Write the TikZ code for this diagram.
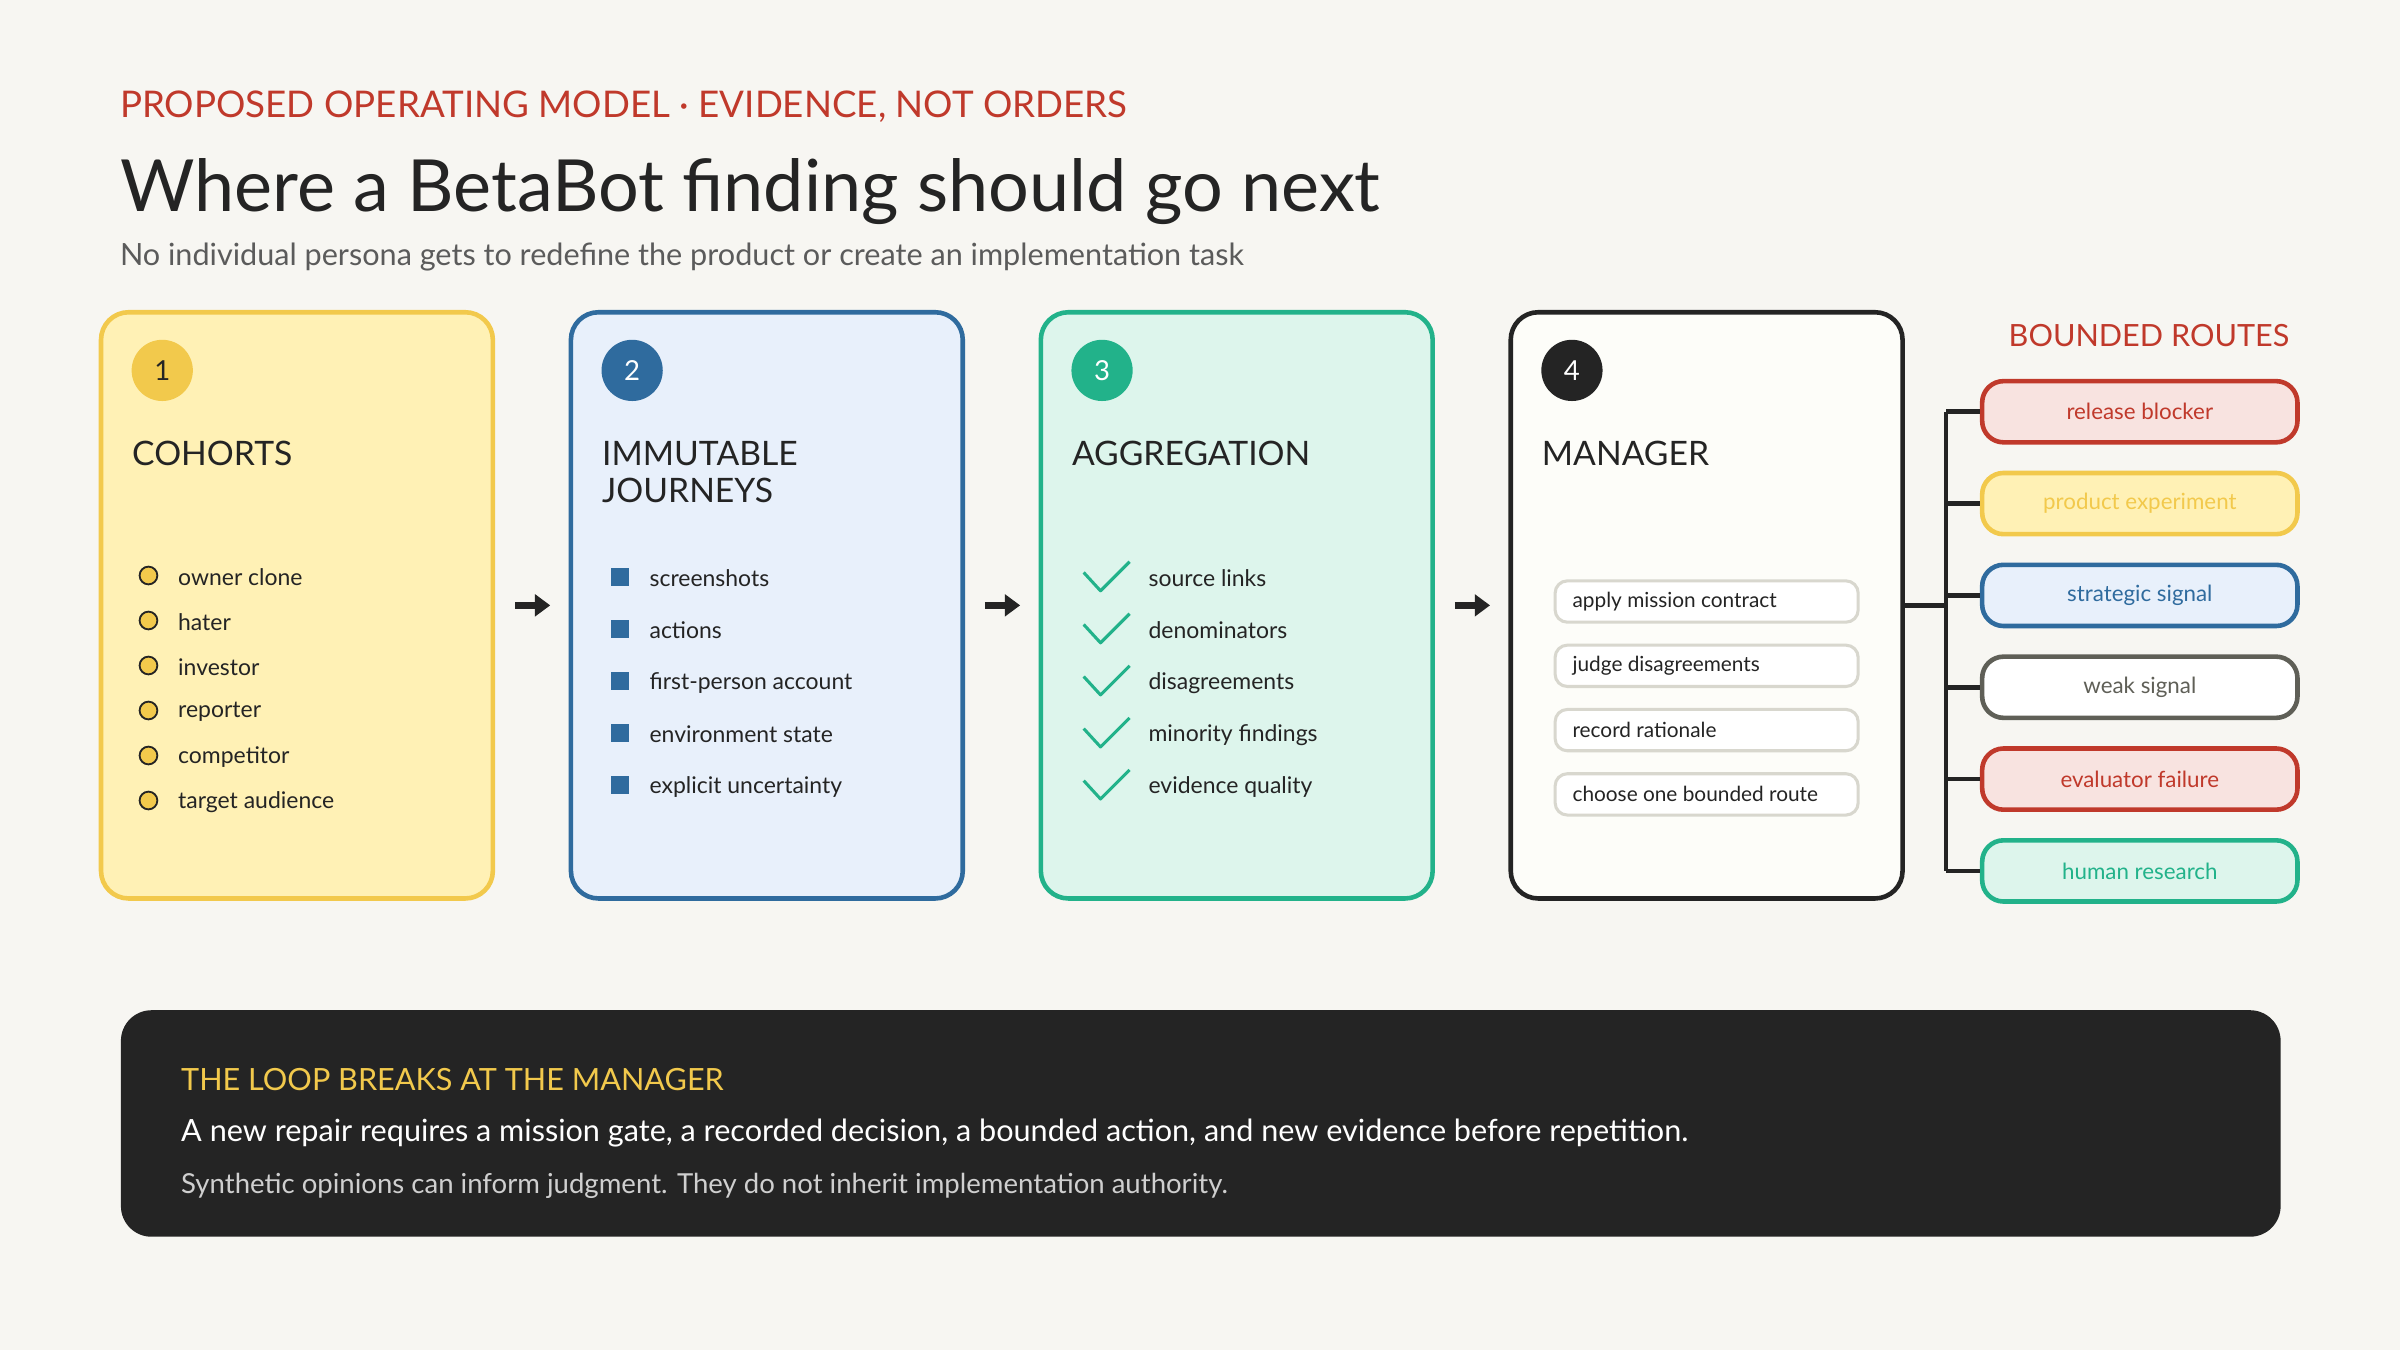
\documentclass[tikz,border=0pt]{standalone}
\usepackage{fontspec}
\setmainfont{Lato}
\usetikzlibrary{positioning}
\usetikzlibrary{arrows.meta}
\definecolor{paper}{HTML}{F7F6F2}
\definecolor{ink}{HTML}{242424}
\definecolor{kred}{HTML}{C0392B}
\definecolor{yfill}{HTML}{FFF1B5}
\definecolor{yline}{HTML}{F2C94C}
\definecolor{bfill}{HTML}{E8F0FB}
\definecolor{bline}{HTML}{2F6B9E}
\definecolor{gfill}{HTML}{DDF5EC}
\definecolor{gline}{HTML}{22B28A}
\definecolor{rfill}{HTML}{F8E3E0}
\definecolor{wfill}{HTML}{FDFDF9}
\definecolor{wline}{HTML}{5F5F57}
\definecolor{sline}{HTML}{D8D7CE}
\definecolor{note}{HTML}{F2C94C}
\definecolor{soft}{HTML}{CFCFCF}
\newcommand{\fs}[1]{\fontsize{#1}{1.2\dimexpr#1\relax}\selectfont}

\begin{document}
\begin{tikzpicture}[x=0.5pt,y=-0.5pt,
        card/.style={draw,line width=1.5pt,rounded corners=9pt,minimum width=128pt,minimum height=191.5pt},
        badge/.style={circle,minimum size=20pt,inner sep=0pt,font=\fs{9pt}},
        head/.style={anchor=north west,align=left,font=\fs{11pt},text=ink,inner sep=0pt},
        item/.style={anchor=west,font=\fs{7.5pt},text=ink,inner sep=0pt},
        task/.style={draw,line width=1pt,sline,fill=white,rounded corners=4pt,minimum width=99pt,minimum height=13.5pt,inner sep=0pt},
        route/.style={draw,line width=1.5pt,rounded corners=7pt,minimum width=103pt,minimum height=20pt,font=\fs{7.3pt},text=ink},
        flow/.style={ink,line width=2.5pt,-{Triangle[length=5pt,width=7pt]},shorten <=6.5pt,shorten >=6pt},
        tree/.style={ink,line width=1.5pt}]
        \fill[paper] (0,0) rectangle (1568,882);

        \node[anchor=west,inner sep=0pt,text=kred,font=\fs{12pt}] (kick) at (78,70) {PROPOSED OPERATING MODEL · EVIDENCE, NOT ORDERS};
        \node[anchor=west,inner sep=0pt,text=ink,font=\fs{23.5pt}] (title) at (78,125) {Where a BetaBot finding should go next};
        \node[anchor=west,inner sep=0pt,text=ink!75,font=\fs{10pt}] (sub) at (78,168) {No individual persona gets to redefine the product or create an implementation task};

        \node[card,yline,fill=yfill] (c1) at (194,395.5) {};
        \node[card,bline,fill=bfill] (c2) at (501,395.5) {};
        \node[card,gline,fill=gfill] (c3) at (808,395.5) {};
        \node[card,ink,fill=wfill] (c4) at (1115,395.5) {};

        \node[badge,fill=yline,text=ink] (n1) at (106,242) {1};
        \node[badge,fill=bline,text=white] (n2) at (413,242) {2};
        \node[badge,fill=gline,text=white] (n3) at (720,242) {3};
        \node[badge,fill=ink,text=white] (n4) at (1027,242) {4};

        \node[head] (h1) at (86,288) {COHORTS};
        \node[head] (h2) at (393,288) {IMMUTABLE\\[-1pt]JOURNEYS};
        \node[head] (h3) at (700,288) {AGGREGATION};
        \node[head] (h4) at (1007,288) {MANAGER};

        % cohorts
        \foreach \t [count=\i] in {owner clone,hater,investor,reporter,competitor,target audience} {
            \pgfmathsetmacro{\yy}{376+29.4*(\i-1)}
            \draw[ink,fill=yline,line width=0.6pt] (97,\yy) circle (2.9pt);
            \node[item] at (116,\yy+1) {\t};
        }
        % journeys
        \foreach \t [count=\i] in {screenshots,actions,first-person account,environment state,explicit uncertainty} {
            \pgfmathsetmacro{\yy}{377+34*(\i-1)}
            \fill[bline] (399,\yy-6) rectangle (411,\yy+6);
            \node[item] at (424,\yy+1) {\t};
        }
        % aggregation
        \foreach \t [count=\i] in {source links,denominators,disagreements,minority findings,evidence quality} {
            \pgfmathsetmacro{\yy}{377+34*(\i-1)}
            \draw[gline,line width=1pt,line join=round] (708,\yy-3) -- (719,\yy+9) -- (738,\yy-10);
            \node[item] at (750,\yy+1) {\t};
        }
        % manager tasks
        \foreach \t [count=\i] in {apply mission contract,judge disagreements,record rationale,choose one bounded route} {
            \pgfmathsetmacro{\yy}{393+42*(\i-1)}
            \node[task] (s\i) at (1115,\yy) {};
            \node[item,font=\fs{6.8pt}] at (1027,\yy) {\t};
        }

        \draw[flow] (c1.east) -- (c2.west);
        \draw[flow] (c2.east) -- (c3.west);
        \draw[flow] (c3.east) -- (c4.west);

        \node[text=kred,font=\fs{10pt},inner sep=0pt] (rt) at (1404,219) {BOUNDED ROUTES};
        \node[route,kred,fill=rfill] (r1) at (1398,269) {release blocker};
        \node[route,yline,fill=yfill] (r2) at (1398,329) {product experiment};
        \node[route,bline,fill=bfill] (r3) at (1398,389) {strategic signal};
        \node[route,wline,fill=white] (r4) at (1398,449) {weak signal};
        \node[route,kred,fill=rfill] (r5) at (1398,509) {evaluator failure};
        \node[route,gline,fill=gfill] (r6) at (1398,569) {human research};

        \draw[tree] (c4.east) -- ++(27,0) coordinate (fork);
        \draw[tree] (fork |- r1.west) -- (fork |- r6.west);
        \foreach \r in {r1,r2,r3,r4,r5,r6}
            \draw[tree] (fork |- \r.west) -- (\r.west);

        \node[fill=ink,rounded corners=10pt,minimum width=705.5pt,minimum height=74pt] (band) at (784.5,734) {};
        \node[anchor=west,inner sep=0pt,text=note,font=\fs{10pt}] (b1) at (118,705) {THE LOOP BREAKS AT THE MANAGER};
        \node[anchor=west,inner sep=0pt,text=white,font=\fs{10pt}] (b2) at (118,740) {A new repair requires a mission gate, a recorded decision, a bounded action, and new evidence before repetition.};
        \node[anchor=west,inner sep=0pt,text=soft,font=\fs{9pt}] (b3) at (118,775) {Synthetic opinions can inform judgment. They do not inherit implementation authority.};
    \end{tikzpicture}
\end{document}
